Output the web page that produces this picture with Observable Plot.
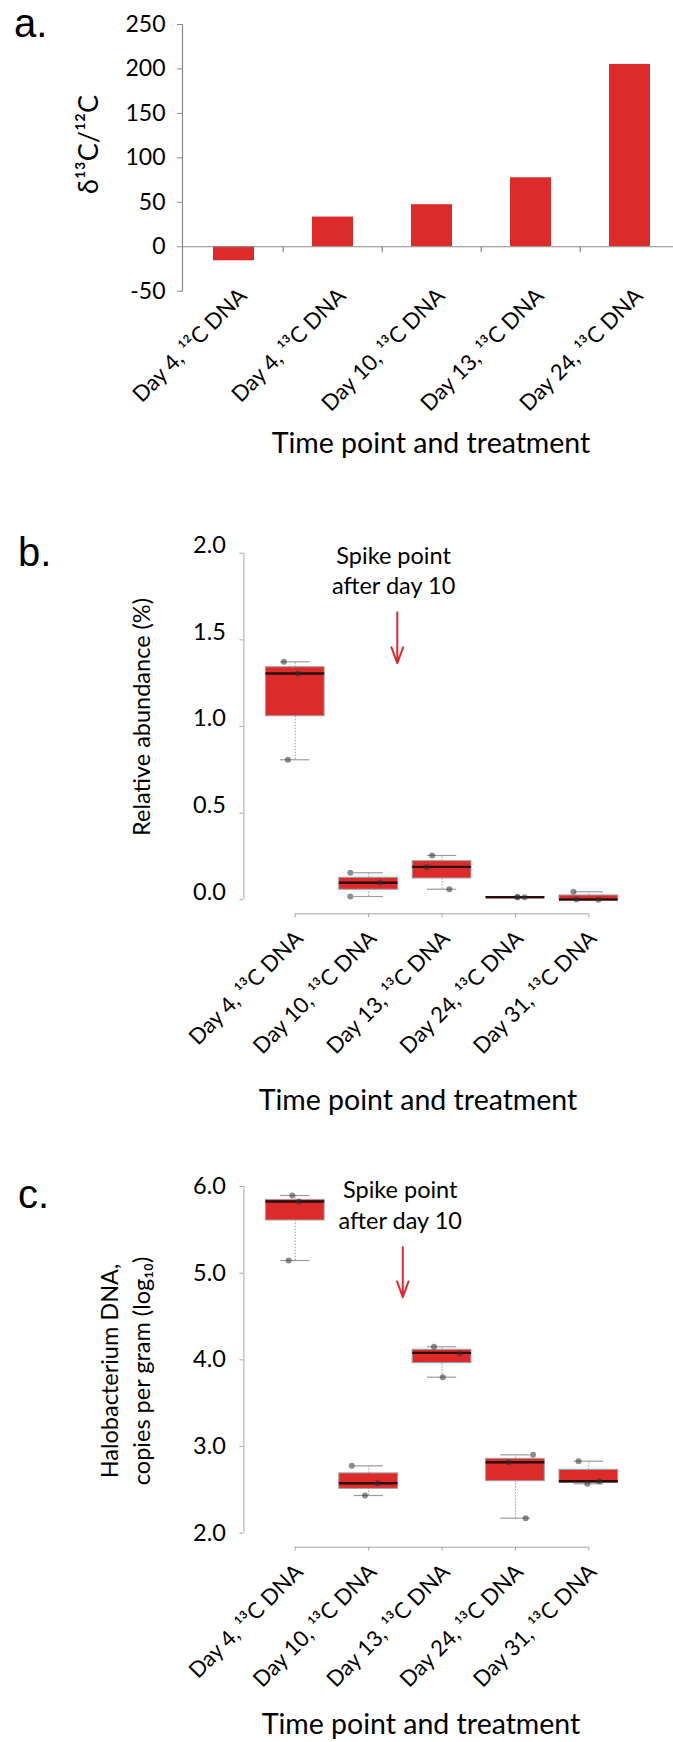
<!DOCTYPE html>
<html><head><meta charset="utf-8">
<script src="https://cdn.jsdelivr.net/npm/d3@7"></script>
<script src="https://cdn.jsdelivr.net/npm/@observablehq/plot@0.6"></script>
<style>
body{margin:0;background:#fff;}
#wrap{width:673px;}
svg{display:block;}
</style></head><body><div id="wrap"></div>
<script>
// ---------- data ----------
const catsA = ["Day 4, \u00B9\u00B2C DNA", "Day 4, \u00B9\u00B3C DNA", "Day 10, \u00B9\u00B3C DNA", "Day 13, \u00B9\u00B3C DNA", "Day 24, \u00B9\u00B3C DNA"];
const deltaA = [-15.8, 33.4, 47.3, 77.6, 205.1];
const ticksA = [-50, 0, 50, 100, 150, 200, 250];

const catsBC = ["Day 4, \u00B9\u00B3C DNA", "Day 10, \u00B9\u00B3C DNA", "Day 13, \u00B9\u00B3C DNA", "Day 24, \u00B9\u00B3C DNA", "Day 31, \u00B9\u00B3C DNA"];

// panel b: relative abundance (%)
const bLo  = [0.808, 0.019, 0.061, 0.014, 0.000];
const bQ1  = [1.059, 0.058, 0.123, 0.014, 0.001];
const bMed = [1.306, 0.098, 0.190, 0.015, 0.002];
const bQ3  = [1.342, 0.127, 0.223, 0.016, 0.025];
const bHi  = [1.373, 0.156, 0.256, 0.016, 0.046];
const bPts = [[1.373, 1.306, 0.808], [0.156, 0.100, 0.019], [0.256, 0.188, 0.061], [0.016, 0.015, 0.014], [0.046, 0.002, 0.000]];
const bJit = [[-0.155, 0.04, -0.10], [-0.25, 0.155, -0.25], [-0.135, -0.21, 0.10], [0.025, 0.125, 0.03], [-0.21, -0.17, 0.13]];
const ticksB = [0, 0.5, 1.0, 1.5, 2.0];

// panel c: Halobacterium DNA copies per gram (log10)
const cLo  = [5.146, 2.435, 3.800, 2.173, 2.570];
const cQ1  = [5.608, 2.512, 3.962, 2.600, 2.581];
const cMed = [5.827, 2.577, 4.081, 2.819, 2.600];
const cQ3  = [5.846, 2.690, 4.116, 2.858, 2.731];
const cHi  = [5.896, 2.777, 4.151, 2.904, 2.831];
const cPts = [[5.896, 5.827, 5.146], [2.777, 2.577, 2.435], [4.151, 4.073, 3.800], [2.819, 2.904, 2.173], [2.831, 2.570, 2.600]];
const cJit = [[-0.04, 0.05, -0.09], [-0.23, 0.12, -0.05], [-0.11, 0.24, 0.01], [-0.09, 0.24, 0.14], [-0.14, -0.02, 0.14]];
const ticksC = [2.0, 3.0, 4.0, 5.0, 6.0];

// ---------- style ----------
const FONT = "Lato, 'Open Sans', sans-serif";
const LETTER_FONT = "'Liberation Sans', Lato, sans-serif";
const RED = "#dd2a2a";
const GRAY_A = "#8a8a8a";
const GRAY = "#a8a8a8";
const wrap = document.getElementById("wrap");

function addText(svg, {x, y, text, size, rotate = 0, anchor = "middle", font = FONT}) {
  d3.select(svg).append("text")
    .attr("transform", `translate(${x},${y}) rotate(${rotate})`)
    .attr("text-anchor", anchor)
    .attr("font-family", font)
    .attr("font-size", size)
    .attr("fill", "#000")
    .text(text);
}

// ---------- panel a ----------
const dataA = catsA.map((c, i) => ({cat: c, v: deltaA[i]}));
const pa = Plot.plot({
  width: 673, height: 500,
  marginLeft: 182, marginRight: 0, marginTop: 24, marginBottom: 209.3,
  style: {fontFamily: FONT, background: "#fff", color: "#000", overflow: "visible"},
  x: {domain: catsA, range: [182, 680], paddingInner: 0.59, paddingOuter: 0.295, axis: null},
  y: {domain: [-50, 250]},
  marks: [
    Plot.barY(dataA, {x: "cat", y: "v", fill: RED}),
    Plot.ruleY([0], {stroke: GRAY_A, strokeWidth: 1.2}),
    Plot.ruleX(catsA.slice(1), {x: d => d, dx: -49.8, y1: 0, y2: -6.75, stroke: GRAY_A, strokeWidth: 1.2}),
    Plot.frame({anchor: "left", stroke: GRAY_A, strokeWidth: 1.2}),
    Plot.axisY({ticks: ticksA, tickSize: 5, tickFormat: () => "", stroke: GRAY_A, label: null}),
    Plot.text(ticksA, {y: d => d, frameAnchor: "left", dx: -17, textAnchor: "end", lineAnchor: "middle", text: d => String(d), fontSize: 23}),
    Plot.text(catsA, {x: d => d, frameAnchor: "bottom", text: d => d, rotate: -45, textAnchor: "end", lineAnchor: "bottom", dx: 14, dy: 6, fontSize: 22})
  ]
});
addText(pa, {x: 14, y: 37, text: "a.", size: 40, anchor: "start", font: LETTER_FONT});
addText(pa, {x: 98, y: 144.5, text: "\u03B4\u00B9\u00B3C/\u00B9\u00B2C", size: 27, rotate: -90});
addText(pa, {x: 431, y: 453, text: "Time point and treatment", size: 28.5});
wrap.appendChild(pa);

// ---------- box panels ----------
function boxPanel({height, marginTop, marginBottom, yDomain, yTicks, tickLine, lo, q1, med, q3, hi, pts, jit, note, arrow}) {
  const boxes = catsBC.map((c, k) => ({i: k + 1, cat: c, lo: lo[k], q1: q1[k], med: med[k], q3: q3[k], hi: hi[k]}));
  const points = pts.flatMap((arr, k) => arr.map((v, j) => ({i: k + 1, j: jit[k][j], v})));
  const xDom = [0.3, 5.7];
  return Plot.plot({
    width: 673, height,
    marginLeft: 243.4, marginRight: 33.3, marginTop, marginBottom,
    style: {fontFamily: FONT, background: "#fff", color: "#000", overflow: "visible"},
    x: {domain: xDom},
    y: {domain: yDomain},
    marks: [
      // axes
      Plot.ruleX([xDom[0]], {y1: yTicks[0], y2: yTicks[yTicks.length - 1], stroke: GRAY}),
      Plot.axisY({ticks: yTicks, tickSize: 4, tickFormat: () => "", stroke: GRAY, label: null}),
      Plot.text(yTicks, {y: d => d, frameAnchor: "left", dx: -18, textAnchor: "end", lineAnchor: tickLine, text: d => d3.format(".1f")(d), fontSize: 23.5}),
      Plot.ruleY([yDomain[0]], {x1: 1, x2: 5, stroke: GRAY}),
      Plot.axisX({ticks: [1, 2, 3, 4, 5], tickSize: 4, tickFormat: () => "", stroke: GRAY, label: null}),
      Plot.text(boxes, {x: "i", frameAnchor: "bottom", text: "cat", rotate: -45, textAnchor: "end", lineAnchor: "bottom", dx: 9, dy: 26, fontSize: 22}),
      // whiskers
      Plot.ruleX(boxes, {x: "i", y1: "q3", y2: "hi", stroke: "#9c9c9c", strokeDasharray: "1.5,1.5"}),
      Plot.ruleX(boxes, {x: "i", y1: "lo", y2: "q1", stroke: "#9c9c9c", strokeDasharray: "1.5,1.5"}),
      Plot.ruleY(boxes, {y: "hi", x1: d => d.i - 0.2, x2: d => d.i + 0.2, stroke: "#9c9c9c", strokeWidth: 1.2}),
      Plot.ruleY(boxes, {y: "lo", x1: d => d.i - 0.2, x2: d => d.i + 0.2, stroke: "#9c9c9c", strokeWidth: 1.2}),
      // boxes
      Plot.rect(boxes, {x1: d => d.i - 0.4, x2: d => d.i + 0.4, y1: "q1", y2: "q3", fill: RED, stroke: "#a0a0a0", strokeWidth: 1}),
      Plot.ruleY(boxes, {y: "med", x1: d => d.i - 0.4, x2: d => d.i + 0.4, stroke: "#2a0c0c", strokeWidth: 2.4}),
      // points
      Plot.dot(points, {x: d => d.i + d.j, y: "v", r: 3, fill: "#303030", fillOpacity: 0.55}),
      // annotation
      Plot.text([note], {x: "x", y: "y", text: () => "Spike point\nafter day 10", lineAnchor: "bottom", lineHeight: 1.28, fontSize: 23.5}),
      Plot.arrow([arrow], {x1: "x", x2: "x", y1: "y1", y2: "y2", stroke: "#e0282b", strokeWidth: 2, headLength: 14, headAngle: 40})
    ]
  });
}

// panel b
const pb = boxPanel({
  height: 640, marginTop: 52.7, marginBottom: 226.7,
  yDomain: [-0.0808, 2], yTicks: ticksB, tickLine: "bottom",
  lo: bLo, q1: bQ1, med: bMed, q3: bQ3, hi: bHi, pts: bPts, jit: bJit,
  note: {x: 2.34, y: 1.767}, arrow: {x: 2.39, y1: 1.659, y2: 1.365}
});
addText(pb, {x: 18, y: 66, text: "b.", size: 40, anchor: "start", font: LETTER_FONT});
addText(pb, {x: 150, y: 217, text: "Relative abundance (%)", size: 23.5, rotate: -90});
addText(pb, {x: 418, y: 610, text: "Time point and treatment", size: 28.5});
wrap.appendChild(pb);

// panel c
const pc = boxPanel({
  height: 602, marginTop: 46, marginBottom: 195.3,
  yDomain: [1.8385, 6], yTicks: ticksC, tickLine: "middle",
  lo: cLo, q1: cQ1, med: cMed, q3: cQ3, hi: cHi, pts: cPts, jit: cJit,
  note: {x: 2.43, y: 5.515}, arrow: {x: 2.465, y1: 5.30, y2: 4.723}
});
addText(pc, {x: 18, y: 68, text: "c.", size: 40, anchor: "start", font: LETTER_FONT});
addText(pc, {x: 118, y: 231, text: "Halobacterium DNA,", size: 23.5, rotate: -90});
addText(pc, {x: 150, y: 231, text: "copies per gram (log\u2081\u2080)", size: 23.5, rotate: -90});
addText(pc, {x: 421, y: 594, text: "Time point and treatment", size: 28.5});
wrap.appendChild(pc);
</script>
</body></html>
